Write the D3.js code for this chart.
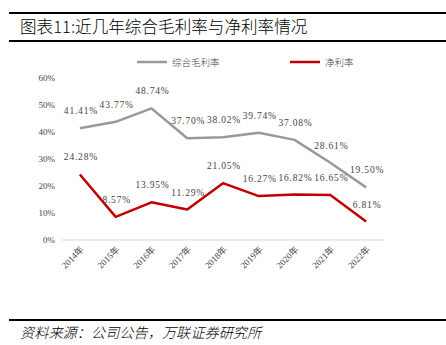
<!DOCTYPE html>
<html><head><meta charset="utf-8">
<script src="https://cdn.jsdelivr.net/npm/d3@7"></script>
<style>body{margin:0;background:#fff}svg{display:block}</style>
</head><body>
<svg id="c" width="446" height="345"></svg>
<script>
const years = ["2014年","2015年","2016年","2017年","2018年","2019年","2020年","2021年","2022年"];
const grossMargin = [41.41,43.77,48.74,37.70,38.02,39.74,37.08,28.61,19.50];
const netMargin = [24.28,8.57,13.95,11.29,21.05,16.27,16.82,16.65,6.81];
const yTicks = [0,10,20,30,40,50,60];
const seriesNames = ["综合毛利率","净利率"];
const colors = ["#999999","#c00000"];

const svg = d3.select("#c");
const serif = "'Liberation Serif','DejaVu Serif','Noto Sans CJK SC',serif";
const cjk = "'Noto Sans CJK SC',sans-serif";

// header / footer rules
svg.append("line").attr("x1",9).attr("x2",446).attr("y1",13).attr("y2",13).attr("stroke","#000").attr("stroke-width",2);
svg.append("line").attr("x1",9).attr("x2",446).attr("y1",41).attr("y2",41).attr("stroke","#000").attr("stroke-width",2);
svg.append("line").attr("x1",9).attr("x2",446).attr("y1",320).attr("y2",320).attr("stroke","#000").attr("stroke-width",2);
svg.append("text").attr("x",20).attr("y",33).attr("font-family",cjk).attr("font-size",16.6).attr("font-weight",300).attr("fill","#000")
  .text("图表11:近几年综合毛利率与净利率情况");
svg.append("text").attr("x",20).attr("y",338).attr("font-family",cjk).attr("font-size",14.2).attr("font-style","italic").attr("font-weight",300).attr("fill","#000")
  .text("资料来源：公司公告，万联证券研究所");

const x = d3.scalePoint().domain(years).range([62,384]).padding(0.5);
const y = d3.scaleLinear().domain([0,60]).range([240,78]);

// y axis labels
const yAxis = d3.axisLeft(y).tickValues(yTicks).tickFormat(d=>d+"%").tickSize(0).tickPadding(0);
const ya = svg.append("g").attr("transform","translate(55,0)").call(yAxis);
ya.select(".domain").remove();
ya.selectAll("text").attr("font-family",serif).attr("font-size",9).attr("fill","#444");

// x axis
const xAxis = d3.axisBottom(x).tickSize(0).tickPadding(0);
const xa = svg.append("g").attr("transform","translate(0,240)").call(xAxis);
xa.select(".domain").attr("stroke","#d9d9d9").attr("d","M62,0H384");
xa.selectAll("text").attr("font-family",serif).attr("font-size",9).attr("fill","#444")
  .attr("text-anchor","end").attr("dy",0)
  .attr("transform","translate(4,10) rotate(-45)");

const data = [grossMargin, netMargin];
const line = d3.line().x((d,i)=>x(years[i])).y(d=>y(d));
data.forEach((s,k)=>{
  svg.append("path").datum(s).attr("d",line).attr("fill","none")
    .attr("stroke",colors[k]).attr("stroke-width",2.5).attr("stroke-linejoin","round");
  svg.append("g").selectAll("text").data(s).join("text")
    .attr("x",(d,i)=>x(years[i])+1).attr("y",d=>y(d)-14)
    .attr("text-anchor","middle").attr("font-family",serif).attr("font-size",9.5)
    .attr("letter-spacing",0.8).attr("fill","#444")
    .text(d=>d.toFixed(2)+"%");
});

// legend
const legX = [137,290];
seriesNames.forEach((n,k)=>{
  svg.append("line").attr("x1",legX[k]).attr("x2",legX[k]+30).attr("y1",62).attr("y2",62)
    .attr("stroke",colors[k]).attr("stroke-width",2.5);
  svg.append("text").attr("x",legX[k]+35).attr("y",65.5).attr("font-family",cjk).attr("font-size",9.5)
    .attr("font-weight",300).attr("fill","#444").text(n);
});
</script>
</body></html>
